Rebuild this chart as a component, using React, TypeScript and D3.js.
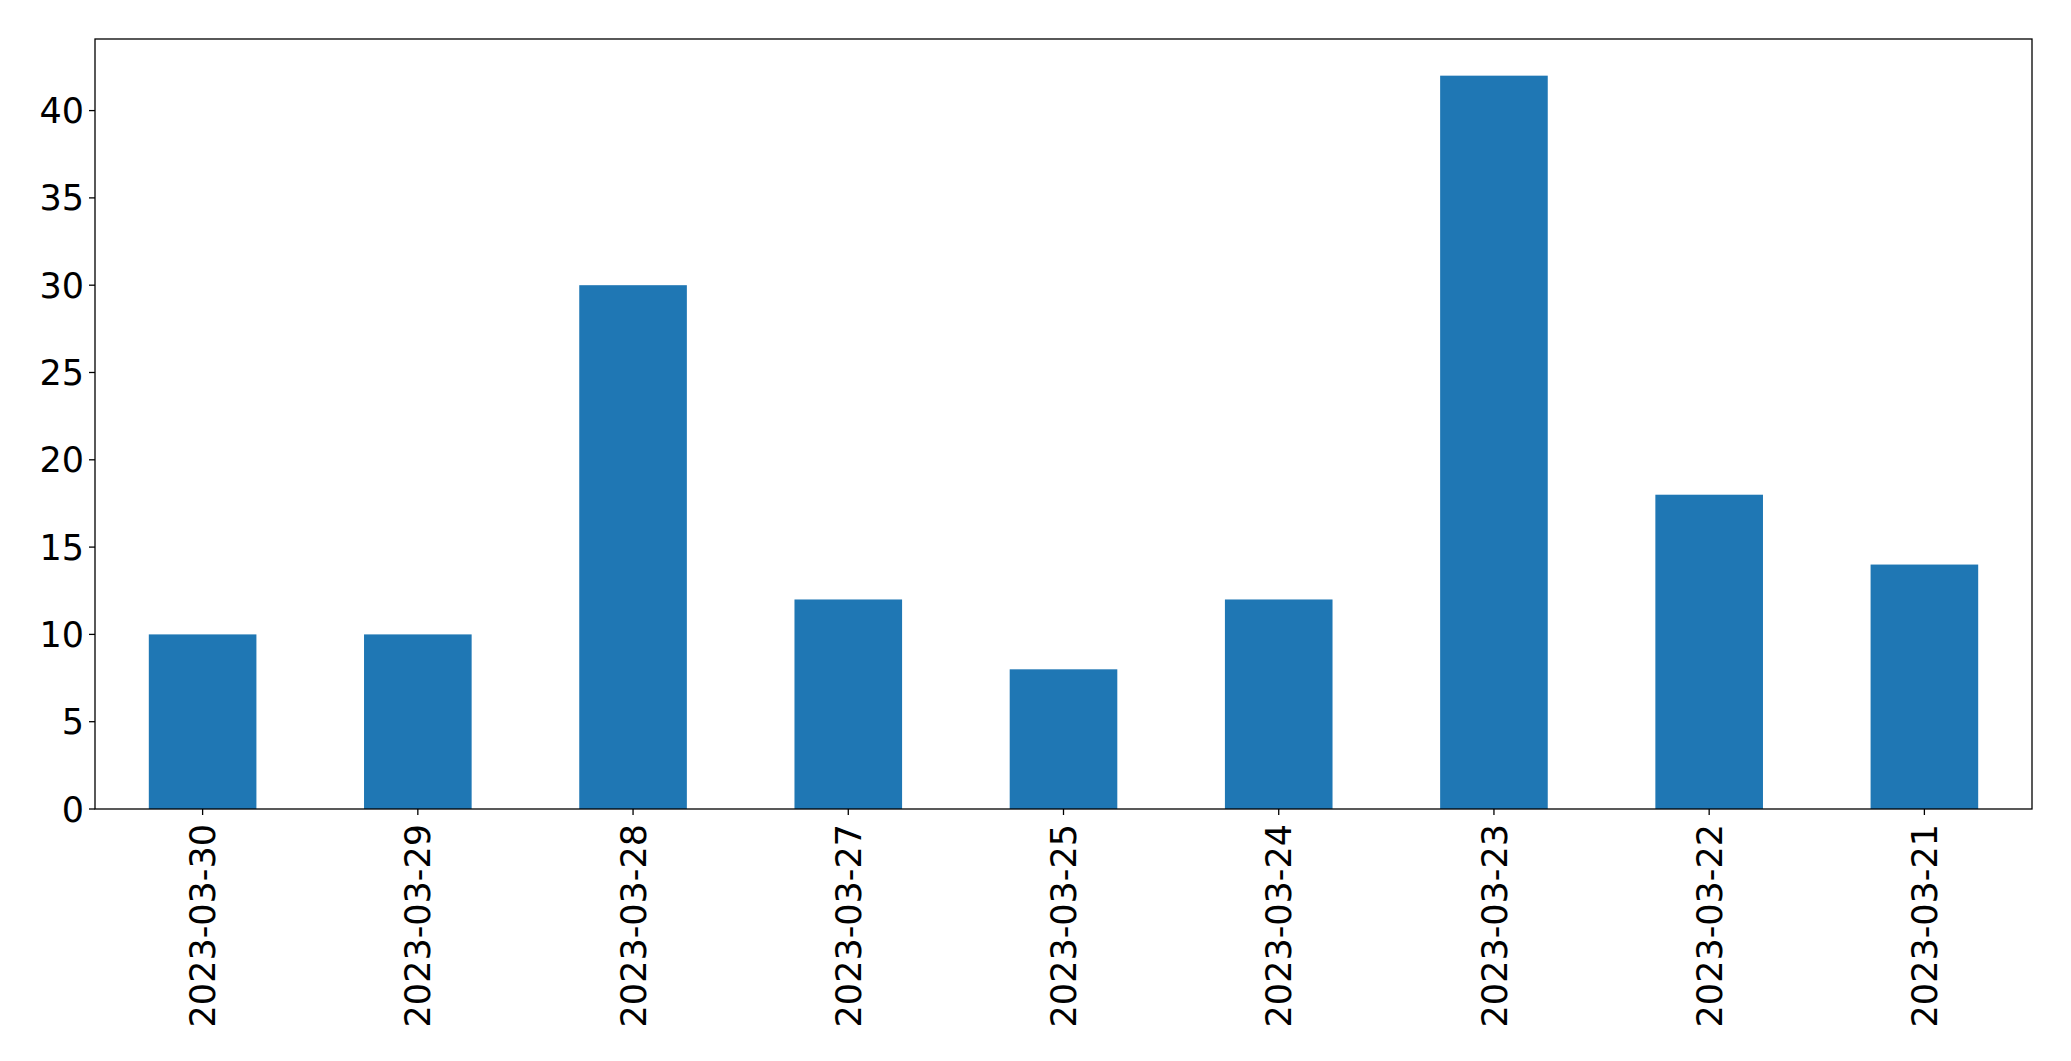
import { useEffect } from "react";
import * as d3 from "d3";

const dates = [
  "2023-03-30",
  "2023-03-29",
  "2023-03-28",
  "2023-03-27",
  "2023-03-25",
  "2023-03-24",
  "2023-03-23",
  "2023-03-22",
  "2023-03-21",
];
const counts = [10, 10, 30, 12, 8, 12, 42, 18, 14];
const yTicks = [0, 5, 10, 15, 20, 25, 30, 35, 40];

const W = 2071;
const H = 1061;
const M = { left: 95, top: 39, right: 2032, bottom: 809 };
const FONT = "DejaVu Sans, sans-serif";
const FS = 35;

export default function App() {
  useEffect(() => {
    document.body.style.margin = "0";
  }, []);

  const x = d3
    .scaleBand<string>()
    .domain(dates)
    .range([M.left, M.right])
    .paddingInner(0.5)
    .paddingOuter(0.25);
  const y = d3
    .scaleLinear()
    .domain([0, (d3.max(counts) ?? 0) * 1.05])
    .range([M.bottom, M.top]);

  return (
    <svg width={W} height={H} style={{ display: "block", background: "#fff" }}>
      {/* bars */}
      {dates.map((d, i) => (
        <rect
          key={d}
          x={x(d)}
          y={y(counts[i])}
          width={x.bandwidth()}
          height={y(0) - y(counts[i])}
          fill="#1f77b4"
        />
      ))}

      {/* frame */}
      <rect
        x={M.left}
        y={M.top}
        width={M.right - M.left}
        height={M.bottom - M.top}
        fill="none"
        stroke="#000"
        strokeWidth={1.3}
      />

      {/* y ticks */}
      {yTicks.map((t) => (
        <g key={t} transform={`translate(${M.left},${y(t)})`}>
          <line x1={-6} x2={0} stroke="#000" strokeWidth={1.3} />
          <text
            x={-11}
            dy="0.36em"
            textAnchor="end"
            fontFamily={FONT}
            fontSize={FS}
            fill="#000"
          >
            {t}
          </text>
        </g>
      ))}

      {/* x ticks */}
      {dates.map((d) => {
        const cx = (x(d) ?? 0) + x.bandwidth() / 2;
        return (
          <g key={d} transform={`translate(${cx},${M.bottom})`}>
            <line y1={0} y2={6} stroke="#000" strokeWidth={1.3} />
            <text
              transform="translate(0,15) rotate(-90)"
              dy="0.36em"
              textAnchor="end"
              fontFamily={FONT}
              fontSize={FS}
              fill="#000"
            >
              {d}
            </text>
          </g>
        );
      })}
    </svg>
  );
}
